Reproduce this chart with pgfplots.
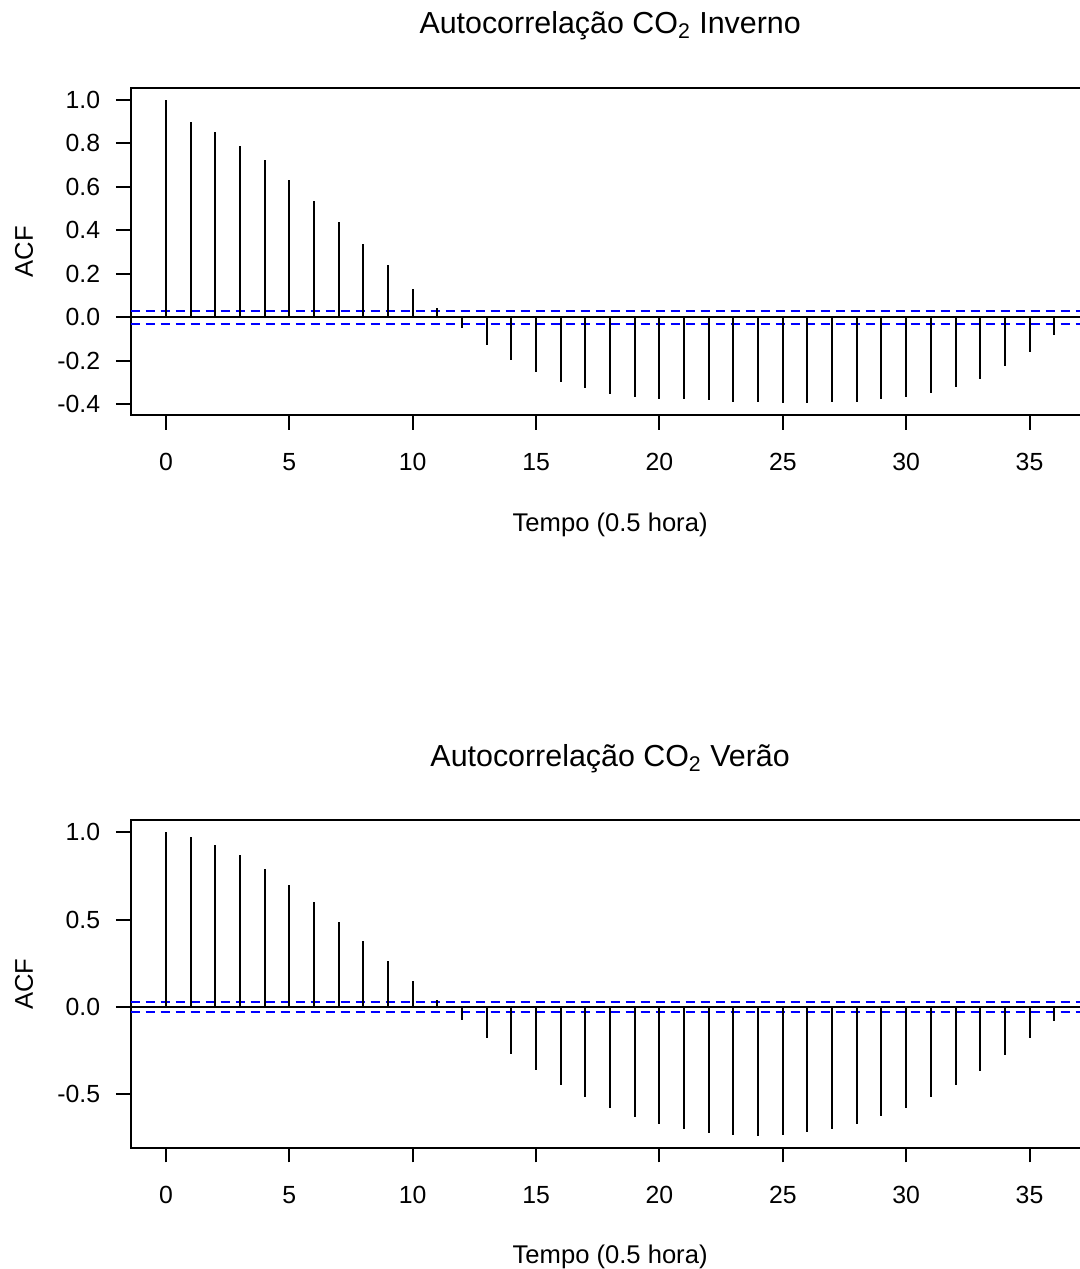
\documentclass[border=0pt]{standalone}
\usepackage{pgfplots}
\pgfplotsset{compat=1.18}
\usepackage{fontspec}
\setmainfont{Liberation Sans}
\definecolor{ciblue}{RGB}{0,0,255}

\pgfplotsset{
  acfaxis/.style={
    scale only axis,
    width=479.6pt, height=163.85pt,
    xmin=-1.44, xmax=37.44,
    axis line style={line width=1pt},
    tick style={line width=1pt, black},
    tick align=outside,
    major tick length=7.3pt,
    xtick={0,5,...,35},
    xtick pos=bottom, ytick pos=left,
    tick label style={font=\fontsize{12.4}{14}\selectfont},
    /pgf/number format/assume math mode=true,
    xticklabel style={anchor=base, yshift=-20.35pt},
    yticklabel style={anchor=east, xshift=-4.35pt,
      /pgf/number format/fixed, /pgf/number format/fixed zerofill, /pgf/number format/precision=1},
    label style={font=\fontsize{12.8}{15}\selectfont},
    xlabel={Tempo (0.5 hora)},
    ylabel={ACF},
    xlabel style={at={(axis description cs:0.5,-0.3528)}, anchor=base},
    ylabel style={at={(axis description cs:-0.10165,0.5)}, anchor=base, rotate=0},
    title style={at={(axis description cs:0.5,1.1273)}, anchor=base, font=\fontsize{15.2}{17}\selectfont},
    clip=false,
  },
  spike/.style={ycomb, black, line width=1pt, mark=none},
  ci/.style={ciblue, line width=1pt, dash pattern=on 4.5pt off 3pt, mark=none},
  zero/.style={black, line width=1pt, mark=none},
}

\begin{document}
\begin{tikzpicture}
\useasboundingbox (0,0) rectangle (540pt,634.5pt);
\clip (0,0) rectangle (540pt,634.5pt);

% ---------------- Top: Inverno ----------------
\begin{axis}[acfaxis,
  at={(65.25pt,426.8pt)}, anchor=south west,
  ymin=-0.4508, ymax=1.0558,
  ytick={-0.4,-0.2,0,0.2,0.4,0.6,0.8,1.0},
  title={Autocorrelação CO\textsubscript{2} Inverno}]
\addplot[zero] coordinates {(-1.44,0) (37.44,0)};
\addplot[ci] coordinates {(-1.44,0.030) (37.44,0.030)};
\addplot[ci] coordinates {(-1.44,-0.029) (37.44,-0.029)};
\addplot[spike] coordinates {
(0,1.000) (1,0.898) (2,0.852) (3,0.789) (4,0.725) (5,0.633) (6,0.535)
(7,0.437) (8,0.338) (9,0.239) (10,0.131) (11,0.041) (12,-0.048)
(13,-0.127) (14,-0.196) (15,-0.253) (16,-0.296) (17,-0.326) (18,-0.352)
(19,-0.365) (20,-0.375) (21,-0.377) (22,-0.380) (23,-0.388) (24,-0.388)
(25,-0.395) (26,-0.395) (27,-0.389) (28,-0.389) (29,-0.377) (30,-0.365)
(31,-0.346) (32,-0.319) (33,-0.282) (34,-0.224) (35,-0.159) (36,-0.081)
};
\end{axis}

% ---------------- Bottom: Verao ----------------
\begin{axis}[acfaxis,
  at={(65.25pt,60.55pt)}, anchor=south west,
  ymin=-0.8065, ymax=1.0695,
  ytick={-0.5,0,0.5,1.0},
  title={Autocorrelação CO\textsubscript{2} Verão}]
\addplot[zero] coordinates {(-1.44,0) (37.44,0)};
\addplot[ci] coordinates {(-1.44,0.027) (37.44,0.027)};
\addplot[ci] coordinates {(-1.44,-0.027) (37.44,-0.027)};
\addplot[spike] coordinates {
(0,1.000) (1,0.971) (2,0.929) (3,0.868) (4,0.792) (5,0.698) (6,0.599)
(7,0.487) (8,0.376) (9,0.263) (10,0.149) (11,0.038) (12,-0.074)
(13,-0.176) (14,-0.271) (15,-0.363) (16,-0.445) (17,-0.515) (18,-0.576)
(19,-0.632) (20,-0.668) (21,-0.697) (22,-0.719) (23,-0.731) (24,-0.737)
(25,-0.731) (26,-0.718) (27,-0.697) (28,-0.668) (29,-0.626) (30,-0.576)
(31,-0.517) (32,-0.447) (33,-0.365) (34,-0.277) (35,-0.179) (36,-0.080)
};
\end{axis}
\end{tikzpicture}
\end{document}
